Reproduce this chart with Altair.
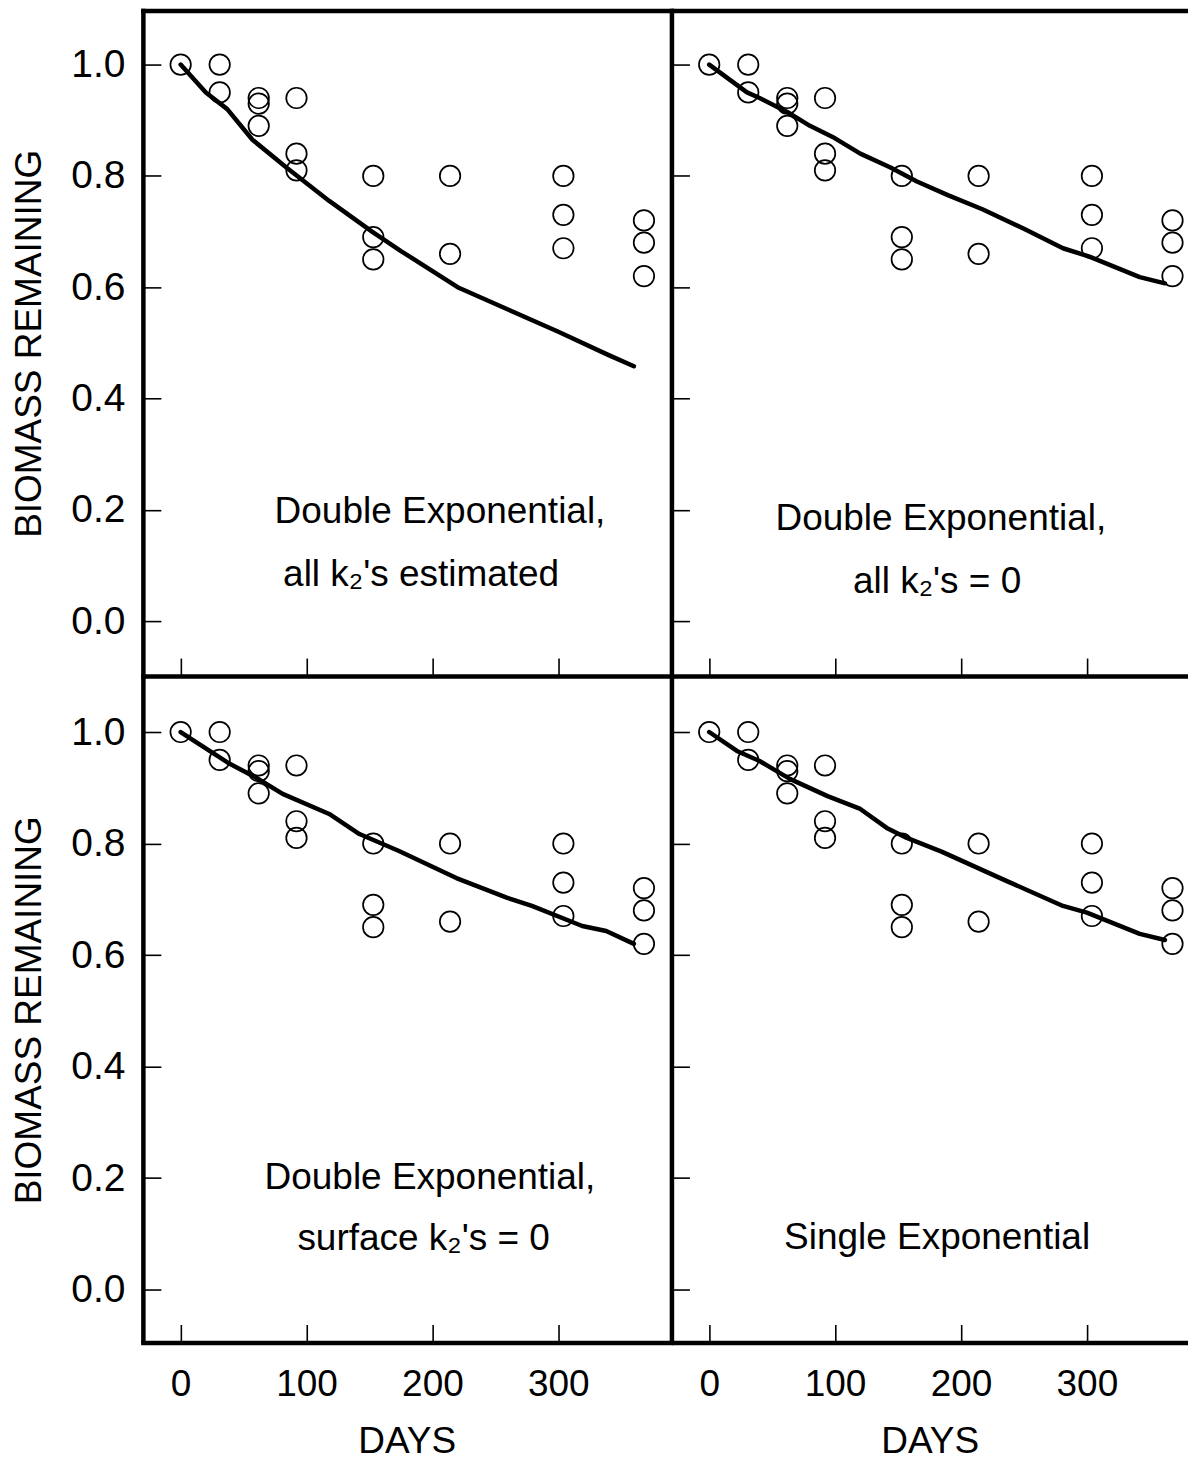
import altair as alt
import pandas as pd

FONT = "Liberation Sans"
FS_LABEL_X = 37
FS_LABEL_Y = 39
FS_TITLE = 37
FS_NOTE = 37

# observations (same in all four panels)
obs_days = [0, 31, 31, 62, 62, 62, 92, 92, 92, 153, 153, 153, 214, 214, 304, 304, 304, 368, 368, 368]
obs_biomass = [1.00, 1.00, 0.95, 0.94, 0.93, 0.89, 0.94, 0.84, 0.81, 0.80, 0.69, 0.65,
               0.80, 0.66, 0.80, 0.73, 0.67, 0.72, 0.68, 0.62]

# fitted curves
fit_a_days = [0, 20, 37, 57, 84, 118, 152, 175, 220, 260, 300, 340, 360]
fit_a_biomass = [1.0, 0.95, 0.92, 0.865, 0.815, 0.755, 0.70, 0.665, 0.60, 0.56, 0.52, 0.478, 0.458]
fit_b_days = [0, 30, 40, 62, 80, 98, 120, 144, 165, 190, 217, 250, 281, 302, 342, 362]
fit_b_biomass = [1.0, 0.95, 0.94, 0.915, 0.89, 0.87, 0.84, 0.815, 0.79, 0.765, 0.74, 0.705,
                 0.67, 0.655, 0.618, 0.607]
fit_c_days = [0, 23, 39, 60, 81, 118, 142, 173, 219, 259, 279, 319, 338, 360]
fit_c_biomass = [1.0, 0.966, 0.943, 0.918, 0.889, 0.853, 0.817, 0.787, 0.738, 0.703, 0.688,
                 0.652, 0.643, 0.62]
fit_d_days = [0, 22, 40, 64, 94, 120, 141, 157, 185, 236, 281, 300, 342, 362]
fit_d_biomass = [1.0, 0.966, 0.948, 0.916, 0.885, 0.862, 0.828, 0.81, 0.785, 0.733, 0.688,
                 0.676, 0.638, 0.627]

# panel annotations
notes_a_text = ["Double Exponential,", "all k\u2082's estimated"]
notes_a_x = [206, 191]
notes_a_y = [0.177, 0.064]
notes_b_text = ["Double Exponential,", "all k\u2082's = 0"]
notes_b_x = [184, 181]
notes_b_y = [0.164, 0.051]
notes_c_text = ["Double Exponential,", "surface k\u2082's = 0"]
notes_c_x = [198, 193]
notes_c_y = [0.180, 0.070]
notes_d_text = ["Single Exponential"]
notes_d_x = [181]
notes_d_y = [0.072]

x_ticks = [0, 100, 200, 300]
y_ticks = [0.0, 0.2, 0.4, 0.6, 0.8, 1.0]

PX_PER_DAY = 1.26
BW = 4.5  # frame line width


def border_axis(orient, cap):
    return alt.Axis(orient=orient, domain=True, domainWidth=BW, domainColor="black",
                    domainCap=cap, ticks=False, labels=False, grid=False, title=None)


def make_panel(fit_days, fit_bio, n_text, n_x, n_y, x_labels, y_labels, width, height,
               y_domain, top_border, left_cap, hcap):
    x_max = -30 + width / PX_PER_DAY
    xs = alt.Scale(domain=[-30, x_max], nice=False, zero=False)
    ys = alt.Scale(domain=y_domain, nice=False, zero=False)

    obs = pd.DataFrame({"days": obs_days, "biomass": obs_biomass})
    fit = pd.DataFrame({"days": fit_days, "biomass": fit_bio})
    notes = pd.DataFrame({"days": n_x, "biomass": n_y, "text": n_text})

    xk = dict(orient="bottom", values=x_ticks, offset=-18, tickSize=18, tickWidth=1.6,
              tickColor="black", domain=False, grid=False, labels=x_labels)
    if x_labels:
        xk.update(labelFont=FONT, labelFontSize=FS_LABEL_X, labelColor="black", labelPadding=24,
                  title="DAYS", titleFont=FONT, titleFontSize=FS_TITLE, titleFontWeight="normal",
                  titleColor="black", titlePadding=21)
    else:
        xk.update(title=None)

    yk = dict(orient="left", values=y_ticks, offset=-18, tickSize=18, tickWidth=1.6,
              tickColor="black", domain=False, grid=False, labels=y_labels)
    if y_labels:
        yk.update(labelFont=FONT, labelFontSize=FS_LABEL_Y, labelColor="black", labelPadding=18,
                  format=".1f", title="BIOMASS REMAINING", titleFont=FONT, titleFontSize=FS_TITLE,
                  titleFontWeight="normal", titleColor="black", titlePadding=22)
    else:
        yk.update(title=None)

    points = alt.Chart(obs).mark_point(
        shape="circle", filled=False, size=420, strokeWidth=1.7, color="black", opacity=1
    ).encode(
        x=alt.X("days:Q", scale=xs, axis=alt.Axis(**xk)),
        y=alt.Y("biomass:Q", scale=ys, axis=alt.Axis(**yk)),
    )

    line = alt.Chart(fit).mark_line(
        color="black", strokeWidth=4.5, strokeCap="round", strokeJoin="round"
    ).encode(
        x=alt.X("days:Q", scale=xs, axis=border_axis("top", hcap) if top_border else None),
        y=alt.Y("biomass:Q", scale=ys, axis=border_axis("left", left_cap)),
    )

    text = alt.Chart(notes).mark_text(
        font=FONT, fontSize=FS_NOTE, color="black", align="center", baseline="alphabetic"
    ).encode(
        x=alt.X("days:Q", scale=xs, axis=border_axis("bottom", hcap)),
        y=alt.Y("biomass:Q", scale=ys, axis=None),
        text="text:N",
    )

    return alt.layer(points, line, text).resolve_axis(
        x="independent", y="independent"
    ).properties(width=width, height=height)


W_LEFT = 528
W_RIGHT = 517
H_TOP = 666
H_BOT = 666
Y_TOP = [-0.0987, 1.097]
Y_BOT = [-0.095, 1.0986]

pa = make_panel(fit_a_days, fit_a_biomass, notes_a_text, notes_a_x, notes_a_y,
                False, True, W_LEFT, H_TOP, Y_TOP, True, "square", "square")
pb = make_panel(fit_b_days, fit_b_biomass, notes_b_text, notes_b_x, notes_b_y,
                False, False, W_RIGHT, H_TOP, Y_TOP, True, "square", "butt")
pc = make_panel(fit_c_days, fit_c_biomass, notes_c_text, notes_c_x, notes_c_y,
                True, True, W_LEFT, H_BOT, Y_BOT, False, "butt", "square")
pd_ = make_panel(fit_d_days, fit_d_biomass, notes_d_text, notes_d_x, notes_d_y,
                 True, False, W_RIGHT, H_BOT, Y_BOT, False, "butt", "butt")

chart = alt.vconcat(
    alt.hconcat(pa, pb, spacing=0),
    alt.hconcat(pc, pd_, spacing=0),
    spacing=0,
).properties(padding={"left": 2, "top": 2, "right": 0, "bottom": 0}).configure_view(strokeWidth=0)

chart.save("out.html", embed_options={"renderer": "svg", "actions": False})
